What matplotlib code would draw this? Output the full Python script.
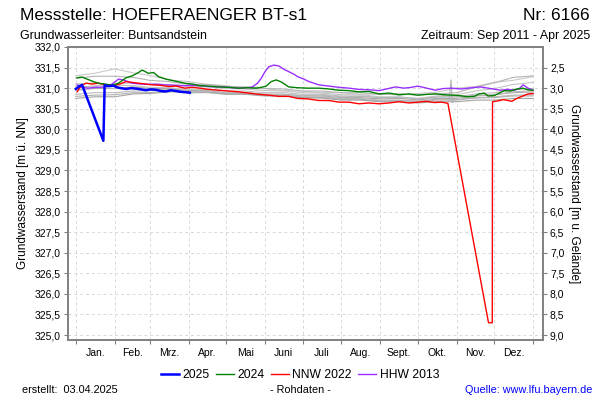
import matplotlib
matplotlib.use("Agg")
import matplotlib.pyplot as plt
import numpy as np

plt.rcParams['font.family'] = ['Liberation Sans', 'DejaVu Sans']

# ---------------- data ----------------
month_starts = [0, 31, 59, 90, 120, 151, 181, 212, 243, 273, 304, 334, 365]
month_labels = ["Jan.", "Feb.", "Mrz.", "Apr.", "Mai", "Juni", "Juli", "Aug.",
                "Sept.", "Okt.", "Nov.", "Dez."]
y_ticks = [325.0, 325.5, 326.0, 326.5, 327.0, 327.5, 328.0, 328.5, 329.0,
           329.5, 330.0, 330.5, 331.0, 331.5, 332.0]
ground_level = 334.0
right_ticks = [2.5, 3.0, 3.5, 4.0, 4.5, 5.0, 5.5, 6.0, 6.5, 7.0, 7.5, 8.0, 8.5, 9.0]

blue_days = [0, 3, 5, 22, 23, 26, 30, 33, 36, 40, 44, 48, 52, 56, 60, 64, 68,
             72, 76, 80, 84, 88, 91]
blue_vals = [330.98, 331.05, 331.08, 329.72, 331.07, 331.05, 331.06, 331.02,
             331.00, 330.98, 331.00, 330.99, 330.97, 330.95, 330.97, 330.96,
             330.93, 330.92, 330.95, 330.93, 330.91, 330.90, 330.89]

green_days = [1, 5, 9, 14, 18, 23, 29, 34, 40, 45, 50, 53, 58, 62, 66, 72, 78,
              87, 93, 99, 106, 114, 122, 130, 137, 144, 148, 152, 156, 160, 164,
              170, 177, 185, 194, 202, 210, 218, 226, 234, 242, 250, 258, 266,
              273, 280, 287, 294, 300, 306, 313, 318, 322, 326, 329, 334, 338,
              342, 347, 352, 357, 361, 365]
green_vals = [331.25, 331.27, 331.22, 331.16, 331.12, 331.10, 331.07, 331.12,
              331.25, 331.30, 331.38, 331.44, 331.36, 331.38, 331.28, 331.22,
              331.18, 331.12, 331.10, 331.06, 331.05, 331.03, 331.02, 331.00,
              331.01, 331.00, 331.02, 331.05, 331.16, 331.20, 331.15, 331.03,
              331.01, 331.00, 331.00, 330.98, 330.95, 330.94, 330.91, 330.92,
              330.86, 330.88, 330.84, 330.86, 330.83, 330.85, 330.86, 330.84,
              330.83, 330.82, 330.79, 330.80, 330.86, 330.88, 330.81, 330.82,
              330.88, 330.94, 330.93, 330.98, 331.00, 330.96, 330.95]

red_days = [1, 4, 8, 13, 18, 24, 30, 35, 40, 45, 50, 56, 61, 67, 74, 80, 87,
            93, 99, 106, 114, 122, 130, 138, 146, 154, 162, 170, 177, 185, 194,
            202, 210, 218, 226, 234, 242, 250, 258, 266, 273, 280, 286, 292,
            297, 329.4, 332.4, 332.6, 337, 341, 345, 348, 352, 356, 361, 365]
red_vals = [330.91, 331.05, 331.12, 331.10, 331.12, 331.08, 331.06, 331.10,
            331.16, 331.14, 331.12, 331.10, 331.08, 331.07, 331.04, 331.05,
            331.00, 331.02, 331.00, 330.97, 330.95, 330.93, 330.91, 330.88,
            330.85, 330.83, 330.80, 330.80, 330.75, 330.74, 330.70, 330.70,
            330.66, 330.66, 330.62, 330.64, 330.62, 330.64, 330.67, 330.64,
            330.66, 330.68, 330.65, 330.66, 330.63, 325.30, 325.30, 330.67,
            330.69, 330.72, 330.70, 330.68, 330.75, 330.80, 330.86, 330.87]

purple_days = [1, 5, 10, 16, 24, 29, 34, 38, 45, 52, 58, 64, 71, 79, 87, 93,
               99, 106, 114, 122, 130, 136, 141, 145, 148, 151, 154, 158, 162,
               166, 170, 174, 177, 182, 186, 190, 194, 202, 210, 218, 226, 234,
               242, 248, 255, 262, 268, 273, 280, 287, 293, 300, 308, 316, 323,
               331, 339, 345, 350, 354, 357, 361, 365]
purple_vals = [331.08, 331.02, 331.00, 331.02, 331.03, 331.10, 331.22, 331.20,
               331.12, 331.10, 331.09, 331.10, 331.08, 331.07, 331.06, 331.07,
               331.06, 331.04, 331.03, 331.02, 331.00, 331.01, 331.03, 331.12,
               331.24, 331.40, 331.52, 331.56, 331.54, 331.46, 331.40, 331.34,
               331.28, 331.22, 331.16, 331.12, 331.08, 331.05, 331.02, 331.00,
               330.97, 330.96, 330.94, 330.98, 331.03, 331.00, 331.02, 331.05,
               331.00, 330.95, 330.99, 331.00, 330.98, 331.01, 331.03, 330.99,
               330.95, 330.97, 330.95, 330.99, 331.08, 331.00, 330.95]

grey_days = [0, 15, 31, 46, 59, 74, 90, 105, 120, 135, 151, 166, 181, 196, 212,
             227, 243, 258, 273, 288, 304, 319, 334, 349, 365]
grey_a = [331.30, 331.36, 331.47, 331.37, 331.31, 331.20, 331.16, 331.09, 331.06,
          330.99, 330.99, 330.94, 330.93, 330.89, 330.89, 330.85, 330.86, 330.83,
          330.87, 330.90, 331.00, 331.04, 331.14, 331.19, 331.28]
grey_b = [331.24, 331.29, 331.29, 331.26, 331.19, 331.16, 331.09, 331.09, 331.04,
          331.03, 330.99, 330.98, 330.93, 330.93, 330.89, 330.89, 330.85, 330.86,
          330.83, 330.86, 330.89, 331.02, 331.13, 331.26, 331.30]
grey_c = [331.10, 331.13, 331.07, 331.06, 331.02, 331.01, 330.97, 330.97, 330.93,
          330.93, 330.89, 330.89, 330.85, 330.85, 330.81, 330.81, 330.77, 330.78,
          330.75, 330.79, 330.79, 330.86, 330.89, 330.96, 330.99]
grey_d = [330.95, 330.99, 330.99, 331.03, 330.99, 330.99, 330.94, 330.94, 330.89,
          330.89, 330.85, 330.85, 330.81, 330.81, 330.77, 330.77, 330.74, 330.75,
          330.72, 330.75, 330.75, 330.81, 330.84, 330.89, 330.91]
grey_e = [330.85, 330.89, 330.89, 330.93, 330.94, 330.95, 330.91, 330.91, 330.87,
          330.87, 330.83, 330.83, 330.79, 330.79, 330.75, 330.75, 330.71, 330.71,
          330.69, 330.73, 330.73, 330.77, 330.79, 330.83, 330.84]
grey_f = [330.80, 330.83, 330.84, 330.89, 330.89, 330.93, 330.89, 330.89, 330.85,
          330.85, 330.81, 330.81, 330.77, 330.77, 330.73, 330.73, 330.69, 330.70,
          330.67, 330.71, 330.71, 330.76, 330.77, 330.81, 330.81]
grey_g = [331.00, 331.06, 331.09, 331.13, 331.09, 331.09, 331.04, 331.03, 330.99,
          330.98, 330.94, 330.93, 330.89, 330.88, 330.84, 330.84, 330.79, 330.79,
          330.75, 330.81, 330.84, 330.93, 330.99, 331.09, 331.14]
grey_h = [330.75, 330.79, 330.79, 330.86, 330.87, 330.91, 330.91, 330.91, 330.86,
          330.86, 330.82, 330.81, 330.77, 330.76, 330.71, 330.71, 330.67, 330.67,
          330.64, 330.67, 330.67, 330.71, 330.71, 330.75, 330.75]
grey_i = [331.05, 331.03, 330.99, 330.99, 330.95, 330.96, 330.92, 330.92, 330.89,
          330.89, 330.85, 330.85, 330.82, 330.83, 330.79, 330.80, 330.77, 330.77,
          330.74, 330.78, 330.79, 330.83, 330.84, 330.91, 330.94]
grey_series = [grey_a, grey_b, grey_c, grey_d, grey_e, grey_f, grey_g, grey_h, grey_i]
spike_days = [298, 299.5, 300.5, 302]
spike_vals = [330.70, 331.20, 330.65, 330.72]

# ---------------- figure ----------------
fig = plt.figure(figsize=(6, 4), dpi=100)
ax = fig.add_axes([0.113, 0.15, 0.792, 0.7325])

frame_col = "#808080"
grid_col = "#d8d8d8"

grey_cols = ["#c8c8c8", "#b4b4b4", "#c0c0c0", "#a8a8a8", "#bcbcbc",
             "#b0b0b0", "#c4c4c4", "#a4a4a4", "#b8b8b8"]
for s, c in zip(grey_series, grey_cols):
    ax.plot(grey_days, s, color=c, lw=0.8, zorder=2)
ax.plot(spike_days, spike_vals, color="#b0b0b0", lw=0.8, zorder=2)

ax.plot(purple_days, purple_vals, color="#9a30ff", lw=1.0, zorder=3, label="HHW 2013")
ax.plot(red_days, red_vals, color="#ff0000", lw=1.0, zorder=4, label="NNW 2022")
ax.plot(green_days, green_vals, color="#008000", lw=1.0, zorder=5, label="2024")
ax.plot(blue_days, blue_vals, color="#0000ff", lw=1.8, zorder=6, label="2025")

ax.set_xlim(-6.4, 372.9)
ax.set_ylim(324.88, 332.0)

ax.set_yticks(y_ticks)
ax.set_yticklabels([f"{v:.1f}".replace(".", ",") for v in y_ticks], fontsize=7.5)
ax.set_xticks(month_starts)
ax.set_xticklabels([])
mids = [(month_starts[i] + month_starts[i + 1]) / 2 for i in range(12)]
ax.set_xticks(mids, minor=True)
ax.set_xticklabels(month_labels, minor=True, fontsize=7.5)
ax.tick_params(axis="x", which="minor", length=0, pad=6)
ax.tick_params(axis="x", which="major", length=3, direction="out", color=frame_col)
ax.tick_params(axis="y", length=3, direction="out", color=frame_col, pad=2)

ax.grid(True, which="major", color=grid_col, linestyle=(0, (3, 3)), lw=0.7)
ax.set_axisbelow(True)
for sp in ax.spines.values():
    sp.set_color(frame_col)
    sp.set_linewidth(1.2)

ax.set_ylabel("Grundwasserstand [m ü. NN]", fontsize=8.5, labelpad=4)

ax2 = ax.twinx()
ax2.set_ylim(ground_level - 324.88, ground_level - 332.0)
ax2.set_yticks(right_ticks)
ax2.set_yticklabels([f"{v:.1f}".replace(".", ",") for v in right_ticks], fontsize=7.5)
ax2.tick_params(axis="y", length=3, direction="out", color=frame_col, pad=2)
for sp in ax2.spines.values():
    sp.set_color(frame_col)
    sp.set_linewidth(1.2)
ax2.set_ylabel("Grundwasserstand [m u. Gelände]", fontsize=8.5, rotation=270,
               labelpad=11)

# texts
fig.text(0.033, 0.962, "Messstelle: HOEFERAENGER BT-s1", fontsize=12.5, ha="left", va="center")
fig.text(0.983, 0.962, "Nr: 6166", fontsize=12.5, ha="right", va="center")
fig.text(0.033, 0.91, "Grundwasserleiter: Buntsandstein", fontsize=8.9, ha="left", va="center")
fig.text(0.983, 0.91, "Zeitraum: Sep 2011 - Apr 2025", fontsize=8.9, ha="right", va="center")

handles, labels = ax.get_legend_handles_labels()
order = [3, 2, 1, 0]
fig.legend([handles[i] for i in order], [labels[i] for i in order],
           loc="center", bbox_to_anchor=(0.5, 0.063), ncol=4, frameon=False,
           fontsize=8.7, handlelength=1.5, handletextpad=0.3, columnspacing=0.5)

fig.text(0.037, 0.025, "erstellt:  03.04.2025", fontsize=7.8, ha="left", va="center")
fig.text(0.5, 0.025, "- Rohdaten -", fontsize=7.8, ha="center", va="center")
fig.text(0.988, 0.025, "Quelle: www.lfu.bayern.de", fontsize=7.8, ha="right",
         va="center", color="#0000ff")

fig.savefig("out.png", dpi=100)
